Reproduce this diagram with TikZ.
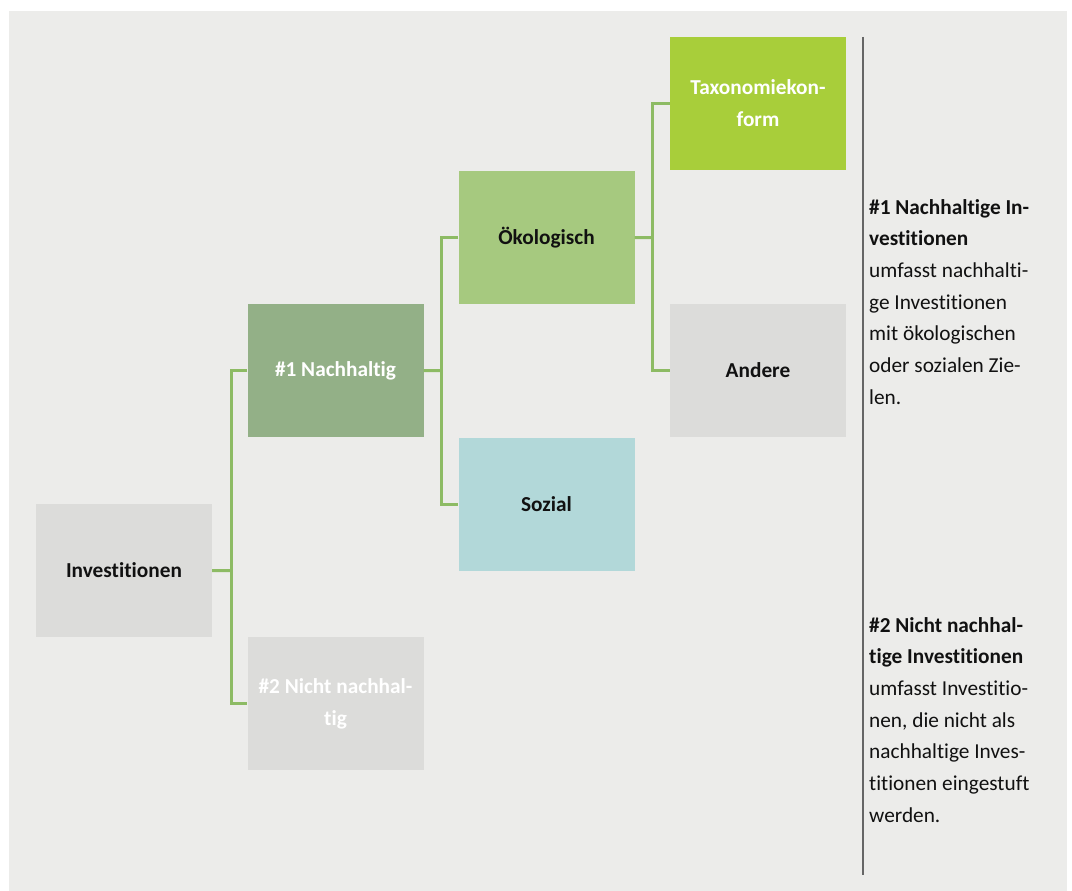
\documentclass[tikz,border=0pt]{standalone}
\usepackage{fontspec}
\setmainfont{Carlito}[Ligatures={NoCommon,TeX}]
\usetikzlibrary{calc}
\definecolor{bg}{HTML}{ECECEA}
\definecolor{greybox}{HTML}{DCDCDA}
\definecolor{nachgreen}{HTML}{93B087}
\definecolor{oekogreen}{HTML}{A6C97F}
\definecolor{sozblue}{HTML}{B2D8D9}
\definecolor{taxgreen}{HTML}{A8CE3A}
\definecolor{conngreen}{HTML}{8DBB64}
\definecolor{rulegrey}{HTML}{666666}
\definecolor{txt}{HTML}{111111}
\tikzset{
  box/.style={rectangle, minimum width=176pt, minimum height=133pt, inner sep=0pt,
    align=center, font=\fontsize{21.3}{32}\selectfont\bfseries, text=txt},
  conn/.style={draw=conngreen, line width=3pt},
  sidetext/.style={anchor=base west, inner sep=0pt, align=left, text=txt,
    font=\fontsize{21.3}{31.7}\selectfont}
}
\begin{document}
\begin{tikzpicture}[x=1pt,y=-1pt]
\useasboundingbox (0,0) rectangle (1072,891);
\fill[white] (0,0) rectangle (1072,891);
\fill[bg] (9,11) rectangle (1067,891);

\node[box, fill=greybox] (inv) at (124,570.5) {Investitionen};
\node[box, fill=nachgreen, text=white] (n1) at (335.5,370.5) {\#1 Nachhaltig};
\node[box, fill=greybox, text=white] (n2) at (335.5,703.5) {\#2 Nicht nachhal-\\tig};
\node[box, fill=oekogreen] (oek) at (546.5,237.5) {Ökologisch};
\node[box, fill=sozblue] (soz) at (546.5,504) {Sozial};
\node[box, fill=taxgreen, text=white] (tax) at (758,103.5) {Taxonomiekon-\\form};
\node[box, fill=greybox] (and) at (758,370.5) {Andere};

\coordinate (j1) at ($(inv.east)!0.55!(n1.west |- inv.east)$);
\draw[conn] (inv.east) -- (j1);
\draw[conn] (n1.west) -| (j1) |- (n2.west);

\coordinate (j2) at ($(n1.east)!0.52!(oek.west |- n1.east)$);
\draw[conn] (n1.east) -- (j2);
\draw[conn] (oek.west) -| (j2) |- (soz.west);

\coordinate (j3) at ($(oek.east)!0.52!(tax.west |- oek.east)$);
\draw[conn] (oek.east) -- (j3);
\draw[conn] (tax.west) -| (j3) |- (and.west);

\coordinate (rtop) at (862.5,37);
\coordinate (rbot) at (862.5,875);
\draw[rulegrey, line width=2pt] (rtop) -- (rbot);

% base anchor = baseline of the last line
\node[sidetext] (t1) at (869,404.2) {\textbf{\#1 Nachhaltige In-}\\\textbf{vestitionen}\\umfasst nachhalti-\\ge Investitionen\\mit ökologischen\\oder sozialen Zie-\\len.};
\node[sidetext] (t2) at (869,822.2) {\textbf{\#2 Nicht nachhal-}\\\textbf{tige Investitionen}\\umfasst Investitio-\\nen, die nicht als\\nachhaltige Inves-\\titionen eingestuft\\werden.};
\end{tikzpicture}
\end{document}
